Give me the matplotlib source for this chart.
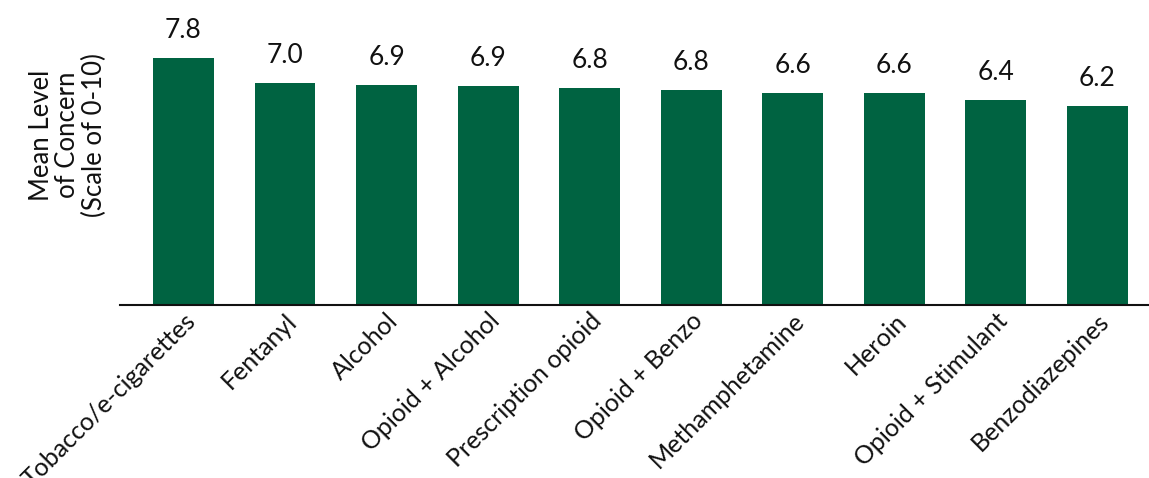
import matplotlib

matplotlib.use('Agg')
import matplotlib.pyplot as plt

categories = ['Tobacco/e-cigarettes', 'Fentanyl', 'Alcohol', 'Opioid + Alcohol',
              'Prescription opioid', 'Opioid + Benzo', 'Methamphetamine', 'Heroin',
              'Opioid + Stimulant', 'Benzodiazepines']
values = [7.8, 7.01, 6.95, 6.92, 6.85, 6.79, 6.69, 6.69, 6.47, 6.28]
value_labels = ['7.8', '7.0', '6.9', '6.9', '6.8', '6.8', '6.6', '6.6', '6.4', '6.2']

plt.rcParams['font.family'] = ['Lato', 'DejaVu Sans']

fig = plt.figure(figsize=(11.49, 4.78), dpi=100)
ax = fig.add_axes([120 / 1149, 173 / 478, 1 - 120 / 1149, 285 / 478])

x = range(len(categories))
bars = ax.bar(x, values, width=0.6, color='#006341')

for rect, lab in zip(bars, value_labels):
    ax.annotate(lab, (rect.get_x() + rect.get_width() / 2, rect.get_height()),
                xytext=(0, 20), textcoords='offset points',
                ha='center', va='center', fontsize=19, color='#111111')

ax.set_xlim(-0.625, 9.51)
ax.set_ylim(0, 9)
ax.set_yticks([])
ax.set_xticks(list(x))
ax.set_xticklabels(categories, rotation=45, ha='right', rotation_mode='anchor',
                   fontsize=18, color='#111111')
ax.tick_params(axis='x', length=0, pad=3)

for side in ['top', 'right', 'left']:
    ax.spines[side].set_visible(False)
ax.spines['bottom'].set_linewidth(1.5)
ax.spines['bottom'].set_color('#111111')

fig.text(68 / 1149, 1 - 135 / 478, 'Mean Level\nof Concern\n(Scale of 0-10)',
         rotation=90, ha='center', va='center', fontsize=18.5, color='#111111',
         multialignment='center', linespacing=1.05)

fig.savefig('out.png', dpi=100)
